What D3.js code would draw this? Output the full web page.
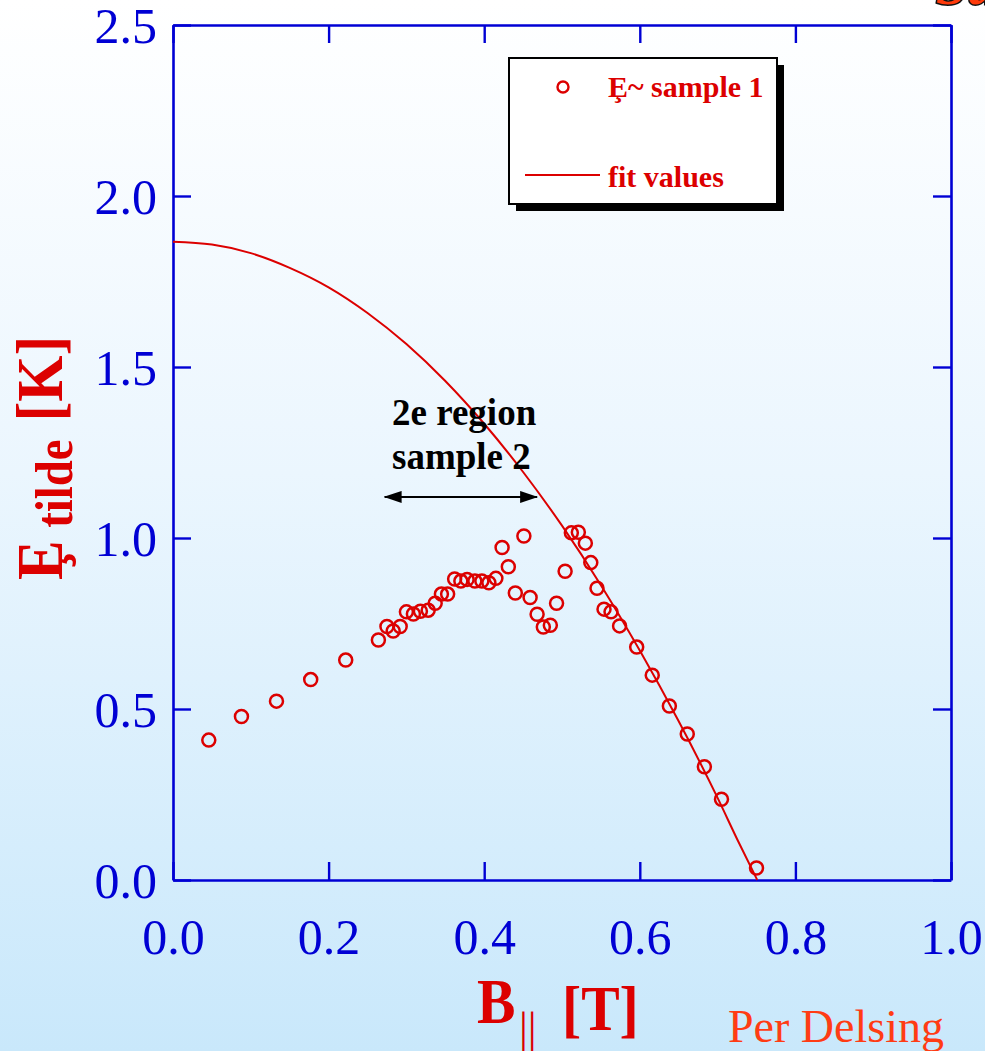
<!DOCTYPE html>
<html>
<head>
<meta charset="utf-8">
<script src="https://cdn.jsdelivr.net/npm/d3@7"></script>
<style>
  html, body { margin: 0; padding: 0; overflow: hidden; }
  svg { display: block; }
</style>
</head>
<body>
<svg id="chart" width="985" height="1051"></svg>
<script>
// sample 1 points
const bField = [0.046, 0.088, 0.133, 0.177, 0.222, 0.264, 0.275, 0.283, 0.292, 0.300,
                0.309, 0.318, 0.328, 0.337, 0.345, 0.353, 0.362, 0.370, 0.378, 0.388,
                0.397, 0.406, 0.415, 0.423, 0.431, 0.440, 0.451, 0.459, 0.468, 0.476,
                0.485, 0.493, 0.504, 0.512, 0.521, 0.530, 0.537, 0.545, 0.554, 0.563,
                0.574, 0.596, 0.616, 0.638, 0.661, 0.683, 0.705, 0.750];
const eTilde = [0.409, 0.478, 0.523, 0.586, 0.643, 0.702, 0.741, 0.728, 0.741, 0.784,
                0.778, 0.786, 0.789, 0.809, 0.836, 0.836, 0.880, 0.874, 0.879, 0.874,
                0.874, 0.869, 0.882, 0.972, 0.916, 0.839, 1.006, 0.826, 0.777, 0.740,
                0.745, 0.809, 0.903, 1.015, 1.017, 0.985, 0.928, 0.853, 0.792, 0.784,
                0.743, 0.681, 0.599, 0.509, 0.427, 0.331, 0.236, 0.035];

// fit curve
const fitB = [0, 0.05, 0.1, 0.15, 0.2, 0.25, 0.3, 0.35, 0.4, 0.45, 0.5, 0.55, 0.6, 0.65, 0.7, 0.725, 0.751];
const fitE = [1.866, 1.858, 1.833, 1.790, 1.733, 1.658, 1.567, 1.459, 1.334, 1.193, 1.036, 0.862, 0.671, 0.464, 0.240, 0.120, 0];

const xTicks = [0, 0.2, 0.4, 0.6, 0.8, 1.0];
const yTicks = [0, 0.5, 1.0, 1.5, 2.0, 2.5];

// "2e region sample 2" arrow span
const regionB = [0.272, 0.468];
const regionE = 1.12;

const RED = '#dc0000';
const BLUE = '#0000d4';
const SERIF = '"Liberation Serif", "Times New Roman", serif';

const svg = d3.select('#chart');
const W = 985, H = 1051;
const plot = { left: 173, right: 951, top: 25, bottom: 880 };

// Background gradient
const defs = svg.append('defs');
const grad = defs.append('linearGradient')
  .attr('id', 'bg').attr('x1', 0).attr('y1', 0).attr('x2', 0).attr('y2', 1);
grad.append('stop').attr('offset', '0%').attr('stop-color', '#ffffff');
grad.append('stop').attr('offset', '45%').attr('stop-color', '#ebf6fe');
grad.append('stop').attr('offset', '100%').attr('stop-color', '#c9e8fb');
svg.append('rect').attr('width', W).attr('height', H).attr('fill', 'url(#bg)');

// cut-off title remnant at the top-right corner
svg.append('text')
  .attr('x', 936).attr('y', 4)
  .attr('font-family', SERIF).attr('font-weight', 'bold').attr('font-style', 'italic')
  .attr('font-size', 56).attr('fill', '#ff3a0a')
  .attr('stroke', '#111').attr('stroke-width', 3).attr('paint-order', 'stroke')
  .text('Su');

const x = d3.scaleLinear().domain([0, 1]).range([plot.left, plot.right]);
const y = d3.scaleLinear().domain([0, 2.5]).range([plot.bottom, plot.top]);

// Axes: ticks point inward on all four sides
function styleAxis(g) {
  g.select('.domain').attr('stroke', BLUE).attr('stroke-width', 2.6);
  g.selectAll('.tick line').attr('stroke', BLUE).attr('stroke-width', 2.4);
  g.selectAll('.tick text')
    .attr('fill', BLUE)
    .attr('font-family', SERIF)
    .attr('font-size', 50);
}

const xAxisG = svg.append('g')
  .attr('transform', `translate(0,${plot.bottom})`)
  .call(d3.axisBottom(x).tickValues(xTicks).tickFormat(d3.format('.1f'))
    .tickSizeInner(-18).tickSizeOuter(0).tickPadding(38))
  .call(styleAxis);

svg.append('g')
  .attr('transform', `translate(0,${plot.top})`)
  .call(d3.axisTop(x).tickValues(xTicks).tickFormat('')
    .tickSizeInner(-18).tickSizeOuter(0))
  .call(styleAxis);

const yAxisG = svg.append('g')
  .attr('transform', `translate(${plot.left},0)`)
  .call(d3.axisLeft(y).tickValues(yTicks).tickFormat(d3.format('.1f'))
    .tickSizeInner(-18).tickSizeOuter(0).tickPadding(16))
  .call(styleAxis);
yAxisG.selectAll('.tick text').attr('dy', '0.34em');

svg.append('g')
  .attr('transform', `translate(${plot.right},0)`)
  .call(d3.axisRight(y).tickValues(yTicks).tickFormat('')
    .tickSizeInner(-18).tickSizeOuter(0))
  .call(styleAxis);

// Fit curve
const fitData = fitB.map((b, i) => ({ b, e: fitE[i] }));
svg.append('path')
  .datum(fitData)
  .attr('fill', 'none')
  .attr('stroke', RED)
  .attr('stroke-width', 2)
  .attr('d', d3.line().x(d => x(d.b)).y(d => y(d.e)).curve(d3.curveMonotoneX));

// Sample 1 points
const pts = bField.map((b, i) => ({ b, e: eTilde[i] }));
svg.append('g')
  .selectAll('circle')
  .data(pts)
  .join('circle')
    .attr('cx', d => x(d.b))
    .attr('cy', d => y(d.e))
    .attr('r', 6.5)
    .attr('fill', 'none')
    .attr('stroke', RED)
    .attr('stroke-width', 2.5);

// Annotation
const ann = svg.append('g').attr('font-family', SERIF).attr('font-weight', 'bold')
  .attr('font-size', 37).attr('fill', '#000');
ann.append('text').attr('x', 392).attr('y', 425).text('2e region');
ann.append('text').attr('x', 392).attr('y', 469).text('sample 2');

defs.append('marker')
  .attr('id', 'head')
  .attr('viewBox', '0 -6 18 12')
  .attr('refX', 17).attr('refY', 0)
  .attr('markerWidth', 18).attr('markerHeight', 12)
  .attr('markerUnits', 'userSpaceOnUse')
  .attr('orient', 'auto-start-reverse')
  .append('path')
  .attr('d', 'M0,-6L18,0L0,6Z')
  .attr('fill', '#000');

svg.append('line')
  .attr('x1', x(regionB[0])).attr('x2', x(regionB[1]))
  .attr('y1', y(regionE)).attr('y2', y(regionE))
  .attr('stroke', '#000').attr('stroke-width', 2)
  .attr('marker-start', 'url(#head)')
  .attr('marker-end', 'url(#head)');

// Legend with drop shadow
const leg = svg.append('g');
leg.append('rect').attr('x', 516).attr('y', 65).attr('width', 268).attr('height', 146).attr('fill', '#000');
leg.append('rect').attr('x', 509).attr('y', 58).attr('width', 268).attr('height', 146)
  .attr('fill', '#fff').attr('stroke', '#000').attr('stroke-width', 2);
leg.append('circle').attr('cx', 563).attr('cy', 87).attr('r', 5.5)
  .attr('fill', 'none').attr('stroke', RED).attr('stroke-width', 2.4);
leg.append('line').attr('x1', 525).attr('x2', 600).attr('y1', 175).attr('y2', 175)
  .attr('stroke', RED).attr('stroke-width', 2);
const legText = leg.append('g').attr('font-family', SERIF).attr('font-weight', 'bold')
  .attr('font-size', 30).attr('fill', RED);
legText.append('text').attr('x', 608).attr('y', 97).text('Ȩ~ sample 1');
legText.append('text').attr('x', 608).attr('y', 187).text('fit values');

// Axis titles
const yLab = svg.append('text')
  .attr('transform', 'translate(62,580) rotate(-90) scale(0.9,1)')
  .attr('font-family', SERIF).attr('font-weight', 'bold')
  .attr('font-size', 66).attr('fill', RED);
yLab.append('tspan').text('Ȩ');
yLab.append('tspan').attr('font-size', 52).attr('dx', 14).attr('dy', 10).text('tilde');
yLab.append('tspan').attr('dx', 20).attr('dy', -10).text('[K]');

const xLabG = svg.append('g').attr('font-family', SERIF).attr('font-weight', 'bold').attr('fill', RED);
xLabG.append('text').attr('transform', 'translate(477,1023) scale(0.9,1)').attr('font-size', 64).text('B');
xLabG.append('text').attr('transform', 'translate(519,1043)').attr('font-size', 44).attr('font-weight', 'normal').text('||');
xLabG.append('text').attr('transform', 'translate(562,1030) scale(0.9,1)').attr('font-size', 64).text('[T]');

svg.append('text')
  .attr('x', 728).attr('y', 1042)
  .attr('font-family', SERIF).attr('font-size', 46)
  .attr('fill', '#ff3c14')
  .text('Per Delsing');
</script>
</body>
</html>
